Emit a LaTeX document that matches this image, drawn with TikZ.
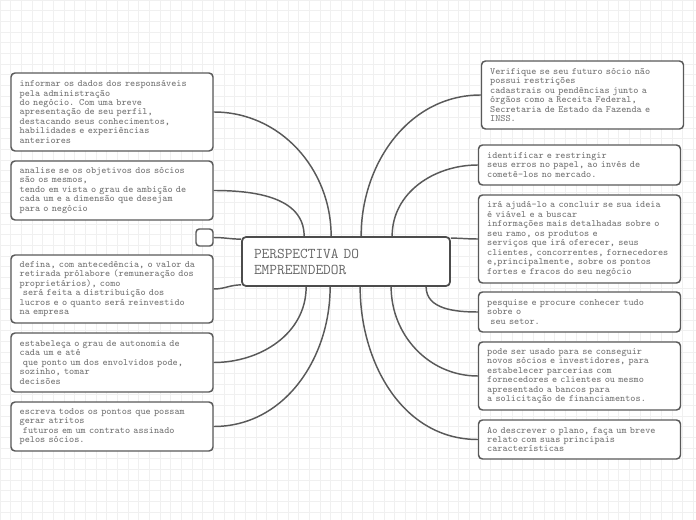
\documentclass[tikz,border=0pt]{standalone}
\usepackage{fontspec}
\usetikzlibrary{positioning, calc}

\begin{document}
\begin{tikzpicture}[
  x=0.75pt, y=-0.75pt,
  font=\ttfamily,
  idea/.style={draw=black!65, line width=1.1pt, fill=white, rounded corners=3pt, align=left,
    text width=138.5pt, inner xsep=6.5pt, inner ysep=2pt, text=black!55,
    font=\ttfamily\fontsize{7.26}{7.1}\selectfont},
  hub/.style={draw=black!70, line width=1.3pt, fill=white, rounded corners=3pt, align=left,
    text width=138pt, inner xsep=9pt, minimum height=36.75pt, text=black!60,
    font=\ttfamily\fontsize{11.2}{12}\selectfont},
  stub/.style={draw=black!65, line width=1.1pt, fill=white, rounded corners=2.5pt,
    minimum width=12.75pt, minimum height=12.75pt, inner sep=0pt},
  link/.style={draw=black!65, line width=1.1pt},
  gridline/.style={draw=black!6, line width=0.6pt}
]

% --- background grid ---
\useasboundingbox (0,0) rectangle (696,520);
\draw[gridline] (0,0) grid[step=8pt] (696,520);

% --- the central topic ---
\node[hub] (hub) at (346,261.5) {PERSPECTIVA DO\\EMPREENDEDOR};

% --- left side ---
\node[idea, minimum height=58.5pt] (dados) at (112,112)
  {informar os dados dos responsáveis\\pela administração\\do negócio. Com uma breve\\apresentação de seu perfil,\\destacando seus conhecimentos,\\habilidades e experiências\\anteriores};
\node[idea, minimum height=44.25pt] (objetivos) at (112,190.5)
  {analise se os objetivos dos sócios\\são os mesmos,\\tendo em vista o grau de ambição de\\cada um e a dimensão que desejam\\para o negócio};
\node[stub] (extra) at (204.5,237.5) {};
\node[idea, minimum height=51pt] (retirada) at (112,289)
  {defina, com antecedência, o valor da\\retirada prólabore (remuneração dos\\proprietários), como\\~será feita a distribuição dos\\lucros e o quanto será reinvestido\\na empresa};
\node[idea, minimum height=44.25pt] (autonomia) at (112,362.5)
  {estabeleça o grau de autonomia de\\cada um e até\\~que ponto um dos envolvidos pode,\\sozinho, tomar\\decisões};
\node[idea, minimum height=36.75pt] (atritos) at (112,426.5)
  {escreva todos os pontos que possam\\gerar atritos\\~futuros em um contrato assinado\\pelos sócios.};

% --- right side ---
\node[idea, minimum height=51pt] (restricoes) at (582.5,95)
  {Verifique se seu futuro sócio não\\possui restrições\\cadastrais ou pendências junto a\\órgãos como a Receita Federal,\\Secretaria de Estado da Fazenda e\\INSS.};
\node[idea, minimum height=30pt] (erros) at (579.5,165)
  {identificar e restringir\\seus erros no papel, ao invés de\\cometê-los no mercado.};
\node[idea, minimum height=66pt] (viabilidade) at (579.5,239)
  {irá ajudá-lo a concluir se sua ideia\\é viável e a buscar\\informações mais detalhadas sobre o\\seu ramo, os produtos e\\serviços que irá oferecer, seus\\clientes, concorrentes, fornecedores\\e,principalmente, sobre os pontos\\fortes e fracos do seu negócio};
\node[idea, minimum height=30pt] (setor) at (579.5,312)
  {pesquise e procure conhecer tudo\\sobre o\\~seu setor.};
\node[idea, minimum height=51pt] (parcerias) at (579.5,376)
  {pode ser usado para se conseguir\\novos sócios e investidores, para\\estabelecer parcerias com\\fornecedores e clientes ou mesmo\\apresentado a bancos para\\a solicitação de financiamentos.};
\node[idea, minimum height=29.25pt] (resumo) at (579.5,439.5)
  {Ao descrever o plano, faça um breve\\relato com suas principais\\características};

% --- branches into the central topic ---
\draw[link] (dados.east) to[out=0,in=90] ($(hub.north west)+(90,0)$);
\draw[link] (objetivos.east) to[out=0,in=90] ($(hub.north west)+(63,0)$);
\draw[link] (extra.east) to[out=0,in=180] ($(hub.north west)+(0,3)$);
\draw[link] (retirada.east) to[out=0,in=180] ($(hub.south west)+(0,-2)$);
\draw[link] (autonomia.east) to[out=0,in=-90] ($(hub.south west)+(65,0)$);
\draw[link] (atritos.east) to[out=0,in=-90] ($(hub.south west)+(89,0)$);

\draw[link] (restricoes.west) to[out=180,in=90] ($(hub.north west)+(120,0)$);
\draw[link] (erros.west) to[out=180,in=90] ($(hub.north west)+(151,0)$);
\draw[link] (viabilidade.west) to[out=180,in=0] ($(hub.north east)+(0,2)$);
\draw[link] (setor.west) to[out=180,in=-90] ($(hub.south west)+(185,0)$);
\draw[link] (parcerias.west) to[out=180,in=-90] ($(hub.south west)+(150,0)$);
\draw[link] (resumo.west) to[out=180,in=-90] ($(hub.south west)+(119,0)$);

\end{tikzpicture}
\end{document}
